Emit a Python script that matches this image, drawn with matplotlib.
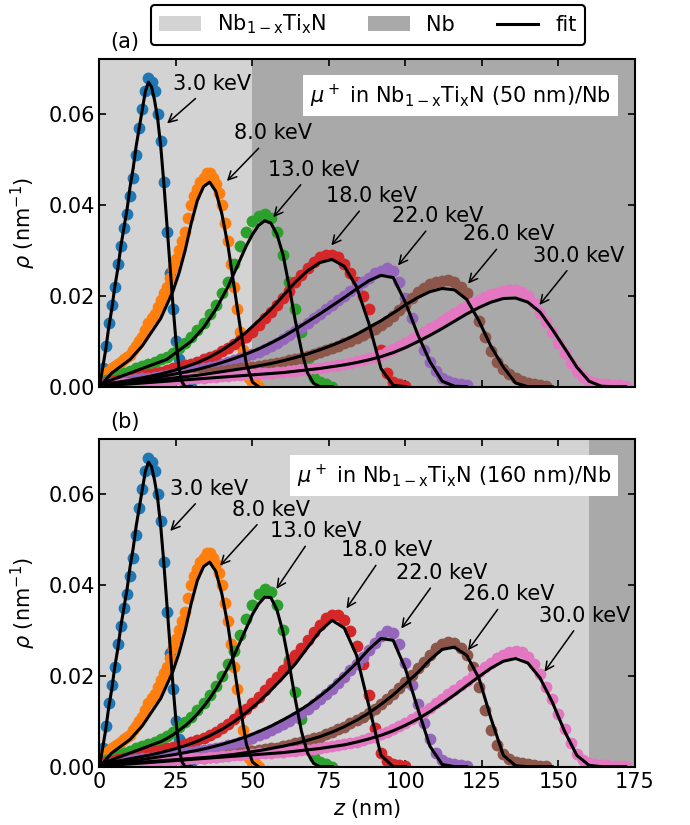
import numpy as np
import matplotlib.pyplot as plt
from matplotlib.patches import Patch
from matplotlib.lines import Line2D

plt.rcParams['font.size'] = 15

energies = [3.0, 8.0, 13.0, 18.0, 22.0, 26.0, 30.0]
colors = ['C0', 'C1', 'C2', 'C3', 'C4', 'C5', 'C6']

# depth step (nm) of the implantation profiles and of the fit curves
data_step = [1, 1, 2, 2, 2, 2, 2]
fit_step = [1, 2, 2, 4, 4, 4, 4]

# ---- low energy profiles (identical in both samples) ----
rho_3keV = [0.001, 0.004, 0.009, 0.014, 0.018, 0.022, 0.027, 0.031, 0.035, 0.038,
            0.042, 0.046, 0.051, 0.057, 0.061, 0.065, 0.068, 0.067, 0.065, 0.060,
            0.054, 0.045, 0.034, 0.025, 0.017, 0.010, 0.006, 0.003, 0.001, 0.0, 0.0]
fit_3keV = [0.0, 0.004, 0.008, 0.013, 0.017, 0.022, 0.026, 0.031, 0.035, 0.039,
            0.044, 0.048, 0.053, 0.057, 0.061, 0.065, 0.067, 0.066, 0.063, 0.059,
            0.053, 0.045, 0.036, 0.027, 0.018, 0.010, 0.004, 0.001, 0.0, 0.0, 0.0]
rho_8keV = [0.002, 0.0025, 0.003, 0.0035, 0.004, 0.0045, 0.005, 0.0055, 0.006, 0.0065,
            0.007, 0.008, 0.009, 0.010, 0.011, 0.0125, 0.014, 0.015, 0.016, 0.0175,
            0.019, 0.0205, 0.022, 0.024, 0.026, 0.028, 0.030, 0.032, 0.034, 0.037,
            0.040, 0.042, 0.0435, 0.045, 0.046, 0.047, 0.047, 0.046, 0.0445, 0.0425,
            0.040, 0.036, 0.032, 0.027, 0.022, 0.017, 0.012, 0.008, 0.005, 0.002,
            0.001, 0.0005, 0.0]
fit_8keV = [0.0, 0.0015, 0.003, 0.004, 0.005, 0.006, 0.0075, 0.009, 0.011, 0.013,
            0.015, 0.018, 0.021, 0.025, 0.030, 0.036, 0.041, 0.044, 0.045, 0.043,
            0.038, 0.031, 0.022, 0.013, 0.005, 0.001, 0.0]

# ---- (a) Nb1-xTixN (50 nm)/Nb ----
rho_a_13keV = [0.001, 0.0015, 0.002, 0.0025, 0.003, 0.0035, 0.004, 0.0045, 0.005, 0.0055,
               0.006, 0.0065, 0.0075, 0.0085, 0.0095, 0.011, 0.0125, 0.014, 0.016, 0.018,
               0.0205, 0.023, 0.027, 0.031, 0.034, 0.0365, 0.0375, 0.038, 0.037, 0.034,
               0.029, 0.023, 0.017, 0.012, 0.006, 0.002, 0.001, 0.0005, 0.0]
fit_a_13keV = [0.0, 0.001, 0.0015, 0.002, 0.0025, 0.003, 0.0035, 0.004, 0.0045, 0.005,
               0.0055, 0.006, 0.007, 0.008, 0.009, 0.010, 0.0115, 0.013, 0.015, 0.017,
               0.0195, 0.022, 0.025, 0.028, 0.031, 0.0335, 0.0355, 0.0365, 0.036, 0.0335,
               0.029, 0.022, 0.0145, 0.008, 0.003, 0.0007, 0.0, 0.0, 0.0]
rho_a_18keV = [0.0005, 0.001, 0.0012, 0.0015, 0.0017, 0.002, 0.0022, 0.0025, 0.0028, 0.003,
               0.0033, 0.0036, 0.004, 0.0043, 0.0047, 0.005, 0.0055, 0.006, 0.0065, 0.007,
               0.0078, 0.0085, 0.0093, 0.0102, 0.011, 0.012, 0.0135, 0.015, 0.0165, 0.018,
               0.0195, 0.021, 0.023, 0.0245, 0.026, 0.0275, 0.0285, 0.029, 0.029, 0.0285,
               0.027, 0.025, 0.023, 0.020, 0.017, 0.013, 0.008, 0.003, 0.001, 0.0005, 0.0002]
fit_a_18keV = [0.0, 0.0008, 0.0012, 0.0017, 0.0022, 0.0028, 0.0035, 0.0043, 0.0053, 0.0065,
               0.008, 0.0098, 0.012, 0.0145, 0.017, 0.020, 0.023, 0.0255, 0.0273, 0.028,
               0.0265, 0.022, 0.014, 0.004, 0.0003, 0.0]
rho_a_22keV = [0.0005, 0.0007, 0.0009, 0.001, 0.0012, 0.0014, 0.0016, 0.0018, 0.002, 0.0022,
               0.0024, 0.0026, 0.0028, 0.003, 0.0032, 0.0034, 0.0037, 0.004, 0.0043, 0.0046,
               0.005, 0.0054, 0.0058, 0.0062, 0.0067, 0.0072, 0.0077, 0.0083, 0.009, 0.0097,
               0.0105, 0.0113, 0.0122, 0.013, 0.014, 0.015, 0.016, 0.017, 0.018, 0.019,
               0.020, 0.021, 0.022, 0.023, 0.024, 0.025, 0.0255, 0.026, 0.0255, 0.023,
               0.0195, 0.015, 0.011, 0.008, 0.0055, 0.0035, 0.002, 0.0012, 0.0008, 0.0005,
               0.0003]
fit_a_22keV = [0.0, 0.0006, 0.001, 0.0014, 0.0018, 0.0022, 0.0027, 0.0032, 0.0038, 0.0045,
               0.0053, 0.0062, 0.0072, 0.0083, 0.0096, 0.011, 0.0126, 0.0143, 0.016, 0.0178,
               0.0196, 0.0215, 0.0233, 0.0245, 0.024, 0.0185, 0.0115, 0.0055, 0.0012, 0.0001,
               0.0]
rho_a_26keV = [0.0004, 0.0005, 0.0006, 0.0007, 0.0009, 0.001, 0.0011, 0.0012, 0.0014, 0.0015,
               0.0017, 0.0018, 0.002, 0.0021, 0.0023, 0.0025, 0.0027, 0.0028, 0.003, 0.0032,
               0.0034, 0.0036, 0.0038, 0.004, 0.0042, 0.0044, 0.0046, 0.0048, 0.005, 0.0052,
               0.0055, 0.0058, 0.0061, 0.0064, 0.0068, 0.0072, 0.0076, 0.008, 0.0085, 0.009,
               0.0095, 0.010, 0.0107, 0.0113, 0.012, 0.0127, 0.0135, 0.0145, 0.0155, 0.0168,
               0.018, 0.0195, 0.0208, 0.0218, 0.0225, 0.023, 0.0233, 0.0234, 0.023, 0.022,
               0.0205, 0.018, 0.0145, 0.011, 0.0078, 0.0055, 0.0038, 0.0027, 0.0019, 0.0013,
               0.0009, 0.0006, 0.0004, 0.0002]
fit_a_26keV = [0.0, 0.0004, 0.0007, 0.001, 0.0013, 0.0016, 0.0019, 0.0022, 0.0025, 0.0029,
               0.0033, 0.0037, 0.0041, 0.0046, 0.0051, 0.0057, 0.0064, 0.0072, 0.0081, 0.0091,
               0.0102, 0.0115, 0.013, 0.0145, 0.0162, 0.018, 0.0196, 0.0209, 0.0216, 0.0213,
               0.0192, 0.0145, 0.0088, 0.0043, 0.0008, 0.0, 0.0, 0.0]
rho_a_30keV = [0.0003, 0.0004, 0.0005, 0.0006, 0.0007, 0.0008, 0.0009, 0.001, 0.0011, 0.0012,
               0.0013, 0.0014, 0.0015, 0.0016, 0.0017, 0.0018, 0.0019, 0.002, 0.0021, 0.0022,
               0.0023, 0.0024, 0.0025, 0.0026, 0.0027, 0.0028, 0.0029, 0.003, 0.0031, 0.0032,
               0.0033, 0.0034, 0.0035, 0.0037, 0.0038, 0.004, 0.0042, 0.0044, 0.0046, 0.0048,
               0.005, 0.0053, 0.0056, 0.0059, 0.0062, 0.0066, 0.007, 0.0076, 0.0082, 0.0089,
               0.0096, 0.0104, 0.0112, 0.012, 0.0128, 0.0136, 0.0145, 0.0154, 0.0162, 0.017,
               0.0178, 0.0185, 0.0191, 0.0198, 0.0203, 0.0207, 0.021, 0.0212, 0.0212, 0.0208,
               0.020, 0.0185, 0.0163, 0.0142, 0.012, 0.0097, 0.0075, 0.0053, 0.0034, 0.0021,
               0.0013, 0.0009, 0.0006, 0.0005, 0.0004, 0.0003, 0.0002]
fit_a_30keV = [0.0, 0.0003, 0.0005, 0.0007, 0.0009, 0.0011, 0.0013, 0.0015, 0.0017, 0.0019,
               0.0021, 0.0023, 0.0025, 0.0027, 0.0029, 0.0031, 0.0034, 0.0037, 0.004, 0.0044,
               0.0048, 0.0053, 0.0059, 0.0066, 0.0075, 0.0086, 0.0099, 0.0113, 0.0128, 0.0144,
               0.016, 0.0174, 0.0186, 0.0194, 0.0195, 0.0186, 0.0164, 0.0126, 0.0085, 0.0043,
               0.0012, 0.0001, 0.0, 0.0]

# ---- (b) Nb1-xTixN (160 nm)/Nb ----
rho_b_13keV = [0.001, 0.0015, 0.002, 0.0025, 0.003, 0.0035, 0.004, 0.0045, 0.005, 0.0055,
               0.006, 0.0068, 0.0077, 0.0087, 0.0098, 0.011, 0.0124, 0.014, 0.0158, 0.0178,
               0.020, 0.0225, 0.0255, 0.029, 0.0325, 0.0355, 0.038, 0.039, 0.0385, 0.0355,
               0.030, 0.0235, 0.0165, 0.0105, 0.0055, 0.0022, 0.001, 0.0005, 0.0]
fit_b_13keV = [0.0, 0.001, 0.0015, 0.002, 0.0025, 0.003, 0.0035, 0.004, 0.0045, 0.005,
               0.0055, 0.0062, 0.007, 0.008, 0.009, 0.0102, 0.0116, 0.0132, 0.015, 0.017,
               0.0193, 0.0218, 0.0245, 0.0275, 0.0305, 0.0335, 0.0358, 0.0373, 0.0372, 0.0345,
               0.0295, 0.0225, 0.0148, 0.0078, 0.003, 0.0007, 0.0, 0.0, 0.0]
rho_b_18keV = [0.0005, 0.001, 0.0013, 0.0016, 0.0019, 0.0022, 0.0025, 0.0028, 0.0031, 0.0034,
               0.0037, 0.004, 0.0043, 0.0046, 0.005, 0.0054, 0.0059, 0.0064, 0.007, 0.0077,
               0.0085, 0.0094, 0.0104, 0.0115, 0.0127, 0.014, 0.0154, 0.0168, 0.0183, 0.0198,
               0.0213, 0.0228, 0.0245, 0.0262, 0.0279, 0.0296, 0.0312, 0.0326, 0.0334, 0.0333,
               0.0322, 0.0298, 0.0265, 0.0225, 0.0158, 0.0085, 0.003, 0.0012, 0.0006, 0.0003,
               0.0001]
fit_b_18keV = [0.0, 0.001, 0.0015, 0.002, 0.0025, 0.0031, 0.0038, 0.0046, 0.0056, 0.0068,
               0.0082, 0.0099, 0.0119, 0.0142, 0.0168, 0.0196, 0.0226, 0.0262, 0.0298, 0.0322,
               0.0305, 0.0245, 0.0135, 0.0025, 0.0, 0.0]
rho_b_22keV = [0.0004, 0.0006, 0.0008, 0.001, 0.0012, 0.0014, 0.0016, 0.0018, 0.002, 0.0022,
               0.0024, 0.0026, 0.0028, 0.003, 0.0032, 0.0032, 0.0034, 0.0036, 0.0038, 0.0041,
               0.0044, 0.0047, 0.005, 0.0054, 0.0059, 0.0064, 0.0069, 0.0075, 0.0081, 0.0087,
               0.0094, 0.0101, 0.0109, 0.0118, 0.0127, 0.0137, 0.0148, 0.0159, 0.0171, 0.0184,
               0.0198, 0.0212, 0.0226, 0.0241, 0.0256, 0.0272, 0.0288, 0.0298, 0.0295, 0.027,
               0.0228, 0.018, 0.0138, 0.0095, 0.006, 0.003, 0.0015, 0.0009, 0.0006, 0.0004,
               0.0002]
fit_b_22keV = [0.0, 0.0006, 0.001, 0.0014, 0.0018, 0.0022, 0.0026, 0.0031, 0.0036, 0.0042,
               0.0049, 0.0057, 0.0066, 0.0077, 0.0089, 0.0103, 0.0118, 0.0135, 0.0155, 0.0177,
               0.0202, 0.0228, 0.0258, 0.0282, 0.0278, 0.0215, 0.0128, 0.0045, 0.0005, 0.0,
               0.0]
rho_b_26keV = [0.0003, 0.0004, 0.0005, 0.0006, 0.0007, 0.0008, 0.0009, 0.001, 0.0011, 0.0012,
               0.0013, 0.0014, 0.0015, 0.0016, 0.0017, 0.0018, 0.0019, 0.002, 0.0021, 0.0022,
               0.0024, 0.0026, 0.0028, 0.003, 0.0032, 0.0034, 0.0036, 0.0038, 0.004, 0.0042,
               0.0045, 0.0048, 0.0051, 0.0054, 0.0058, 0.0062, 0.0066, 0.0071, 0.0076, 0.0082,
               0.0088, 0.0095, 0.0102, 0.011, 0.0118, 0.0127, 0.0137, 0.0148, 0.016, 0.0173,
               0.0187, 0.0201, 0.0216, 0.0231, 0.0246, 0.026, 0.027, 0.0275, 0.0273, 0.0262,
               0.0245, 0.022, 0.0175, 0.0125, 0.008, 0.0048, 0.0028, 0.0017, 0.0011, 0.0007,
               0.0005, 0.0003, 0.0002, 0.0001]
fit_b_26keV = [0.0, 0.0004, 0.0007, 0.0009, 0.0011, 0.0013, 0.0015, 0.0017, 0.0019, 0.0021,
               0.0024, 0.0027, 0.0031, 0.0035, 0.004, 0.0045, 0.0051, 0.0058, 0.0066, 0.0076,
               0.0088, 0.0102, 0.0118, 0.0137, 0.0158, 0.0182, 0.0207, 0.0235, 0.0258, 0.0263,
               0.0245, 0.0195, 0.0105, 0.0025, 0.0002, 0.0, 0.0, 0.0]
rho_b_30keV = [0.0003, 0.0004, 0.0005, 0.0006, 0.0007, 0.0008, 0.0009, 0.001, 0.0011, 0.0012,
               0.0013, 0.0014, 0.0015, 0.0016, 0.0017, 0.0018, 0.0019, 0.002, 0.0021, 0.0022,
               0.0023, 0.0024, 0.0025, 0.0026, 0.0027, 0.0028, 0.0029, 0.003, 0.0031, 0.0032,
               0.0033, 0.0034, 0.0035, 0.0036, 0.0037, 0.0039, 0.0041, 0.0043, 0.0045, 0.0047,
               0.0049, 0.0052, 0.0055, 0.0058, 0.0062, 0.0066, 0.0071, 0.0076, 0.0082, 0.0089,
               0.0096, 0.0104, 0.0112, 0.0121, 0.013, 0.0139, 0.0149, 0.0159, 0.0169, 0.0179,
               0.0189, 0.0199, 0.0209, 0.0219, 0.0229, 0.0238, 0.0246, 0.0253, 0.0255, 0.0252,
               0.0242, 0.0225, 0.0203, 0.0175, 0.0148, 0.0115, 0.0082, 0.0052, 0.0028, 0.0015,
               0.0009, 0.0006, 0.0004, 0.0003, 0.0002, 0.0001, 0.0001]
fit_b_30keV = [0.0, 0.0003, 0.0005, 0.0007, 0.0009, 0.0011, 0.0013, 0.0015, 0.0017, 0.0019,
               0.0021, 0.0023, 0.0025, 0.0027, 0.0029, 0.0031, 0.0034, 0.0037, 0.004, 0.0044,
               0.0048, 0.0054, 0.0061, 0.0069, 0.0079, 0.0091, 0.0105, 0.0121, 0.0139, 0.0158,
               0.0178, 0.0198, 0.0217, 0.0232, 0.0238, 0.0228, 0.0195, 0.0142, 0.0078, 0.0025,
               0.0003, 0.0, 0.0, 0.0]

rho_a = [rho_3keV, rho_8keV, rho_a_13keV, rho_a_18keV, rho_a_22keV, rho_a_26keV, rho_a_30keV]
fit_a = [fit_3keV, fit_8keV, fit_a_13keV, fit_a_18keV, fit_a_22keV, fit_a_26keV, fit_a_30keV]
rho_b = [rho_3keV, rho_8keV, rho_b_13keV, rho_b_18keV, rho_b_22keV, rho_b_26keV, rho_b_30keV]
fit_b = [fit_3keV, fit_8keV, fit_b_13keV, fit_b_18keV, fit_b_22keV, fit_b_26keV, fit_b_30keV]

# layer thicknesses (nm)
nbtin_a = 50
nbtin_b = 160
z_max = 175

# label positions (text centre) and arrow tips, data coords
label_a = [(36.8, 0.0666), (56.7, 0.0557), (69.9, 0.0477), (88.9, 0.0419),
           (110.6, 0.0375), (133.8, 0.0335), (156.7, 0.0288)]
tip_a = [(21.4, 0.0575), (41.0, 0.0448), (56.2, 0.0368), (75.2, 0.0306),
         (97.0, 0.0262), (119.9, 0.0222), (143.2, 0.0175)]
label_b = [(35.8, 0.0611), (55.9, 0.0565), (70.6, 0.0518), (93.7, 0.0476),
           (111.7, 0.0426), (133.7, 0.0379), (158.5, 0.0332)]
tip_b = [(22.5, 0.0514), (38.8, 0.0438), (57.3, 0.0386), (80.2, 0.0343),
         (98.1, 0.0299), (119.9, 0.0251), (144.9, 0.0204)]

light = '#d3d3d3'
dark = '#a9a9a9'
layer_name = r'Nb$_{1-\mathrm{x}}$Ti$_{\mathrm{x}}$N'


def draw_panel(ax, profiles, fits, thickness, labels, tips, tag):
    ax.axvspan(0, thickness, color=light, lw=0, zorder=0)
    ax.axvspan(thickness, z_max, color=dark, lw=0, zorder=0)
    for i, vals in enumerate(profiles):
        z = data_step[i] * np.arange(len(vals))
        ax.plot(z, vals, 'o', color=colors[i], ms=8.5, mew=0, zorder=2)
    for i, vals in enumerate(fits):
        z = fit_step[i] * np.arange(len(vals))
        ax.plot(z, vals, '-', color='black', lw=2.2, zorder=3)
    for E, lab, tip in zip(energies, labels, tips):
        ax.annotate(f'{E:.1f} keV', xy=tip, xytext=lab, ha='center', va='center',
                    arrowprops=dict(arrowstyle='->', color='black', lw=1.1), zorder=4)
    ax.text(0.955, 0.93, r'$\mu^+$ in ' + layer_name + f' ({thickness} nm)/Nb',
            transform=ax.transAxes, ha='right', va='top', zorder=5,
            bbox=dict(facecolor='white', edgecolor='none', pad=5))
    ax.text(0.048, 1.053, tag, transform=ax.transAxes, ha='center', va='center')
    ax.set_xlim(0, z_max)
    ax.set_ylim(0, 0.072)
    ax.set_yticks([0.0, 0.02, 0.04, 0.06])
    ax.set_xticks(np.arange(0, 176, 25))
    ax.tick_params(direction='in', top=True, right=True, length=5, width=1.2)
    for s in ax.spines.values():
        s.set_linewidth(1.5)
    ax.set_ylabel(r'$\rho$ (nm$^{-1}$)')


fig = plt.figure(figsize=(6.9, 8.25), dpi=100)
ax_a = fig.add_axes([0.1442, 0.5313, 0.776, 0.3967])
ax_b = fig.add_axes([0.1442, 0.0707, 0.776, 0.3967])

draw_panel(ax_a, rho_a, fit_a, nbtin_a, label_a, tip_a, '(a)')
draw_panel(ax_b, rho_b, fit_b, nbtin_b, label_b, tip_b, '(b)')
ax_a.tick_params(labelbottom=False)
ax_b.set_xlabel(r'$z$ (nm)')
ax_a.yaxis.set_label_coords(-0.115, 0.5)
ax_b.yaxis.set_label_coords(-0.115, 0.5)

handles = [Patch(facecolor=light, label=layer_name),
           Patch(facecolor=dark, label='Nb'),
           Line2D([], [], color='black', lw=2.2, label='fit')]
leg = fig.legend(handles=handles, loc='upper center', bbox_to_anchor=(0.533, 0.997),
                 ncol=3, fancybox=True, framealpha=1, edgecolor='black',
                 borderaxespad=0.1)
leg.get_frame().set_linewidth(1.5)

fig.savefig('out.png', dpi=100)
